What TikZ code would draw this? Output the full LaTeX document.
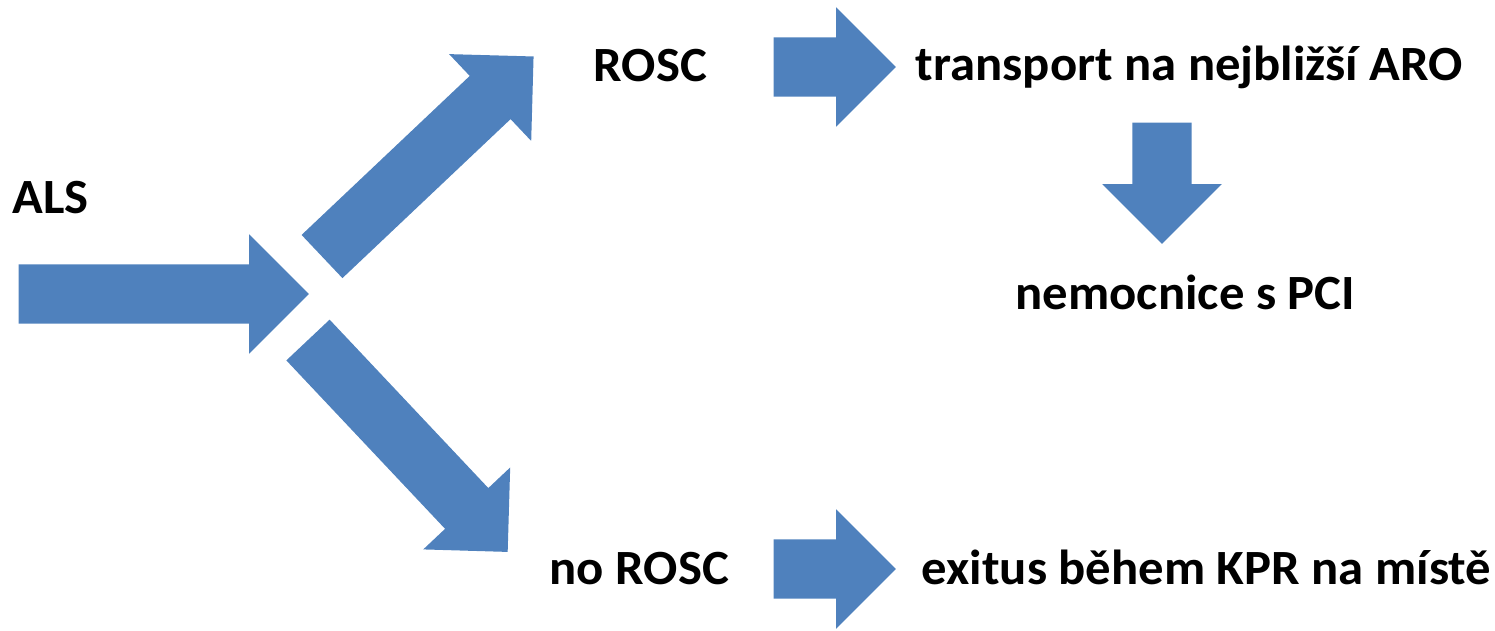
\documentclass[tikz,border=0pt]{standalone}
\usepackage{fontspec}
\setmainfont{Carlito}[FakeStretch=1.03]
\usetikzlibrary{shapes.arrows}
\definecolor{arrowblue}{HTML}{4F81BD}
\tikzset{
  barrow/.style={single arrow, fill=arrowblue, draw=none, inner xsep=0pt, inner ysep=0.29cm,
    single arrow head extend=0.30cm, single arrow tip angle=90, single arrow head indent=0pt,
    minimum height=#1, anchor=tail},
  lbl/.style={anchor=base west, inner sep=0pt, font=\fontsize{14}{17}\selectfont\bfseries}
}
\begin{document}
\begin{tikzpicture}[x=0.01cm, y=-0.01cm]
\useasboundingbox (0,0) rectangle (1495,630);
% arrows
\node[barrow=2.9cm] (aals) at (18,294) {};
\node[barrow=2.91cm, rotate=43.4] (aup) at (321.5,257) {};
\node[barrow=2.91cm, rotate=-46.7] (adown) at (307.5,339.5) {};
\node[barrow=1.22cm] (arosc) at (773,67) {};
\node[barrow=1.22cm] (anorosc) at (773,569) {};
\node[barrow=1.21cm, rotate=-90] (apci) at (1162,122) {};
% labels
\node[lbl] (als) at (12,213) {ALS};
\node[lbl] (rosc) at (593,81) {ROSC};
\node[lbl] (transport) at (915,80) {transport na nejbližší ARO};
\node[lbl] (pci) at (1015,309) {nemocnice s PCI};
\node[lbl] (norosc) at (549,584) {no ROSC};
\node[lbl] (exitus) at (921,584) {exitus během KPR na místě};
\end{tikzpicture}
\end{document}
